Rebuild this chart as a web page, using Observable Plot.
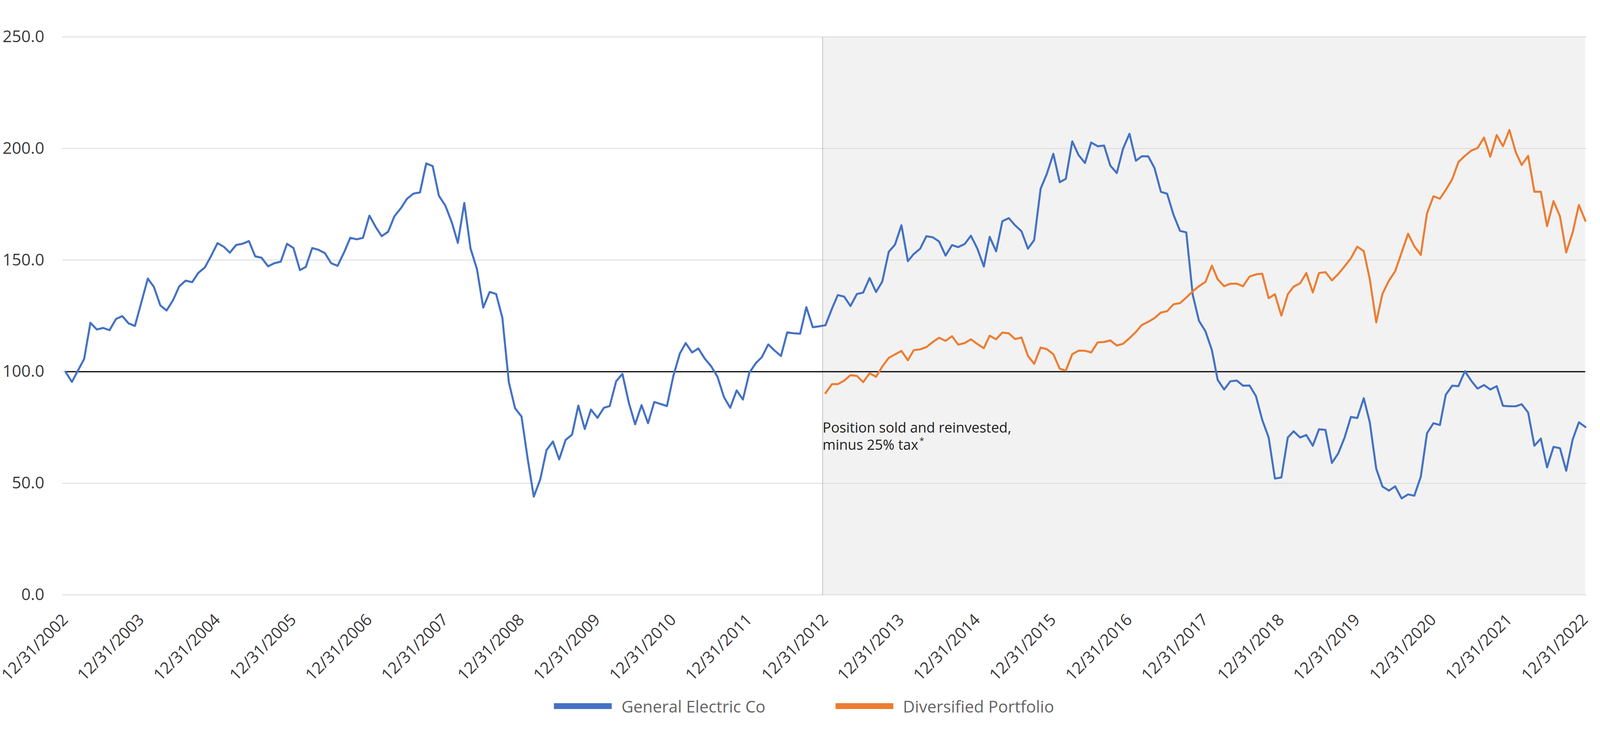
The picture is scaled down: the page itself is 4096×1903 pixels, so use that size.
<!DOCTYPE html>
<html>
<head>
<meta charset="utf-8">
<script src="https://cdn.jsdelivr.net/npm/d3@7"></script>
<script src="https://cdn.jsdelivr.net/npm/@observablehq/plot@0.6"></script>
<style>
  html, body { margin: 0; padding: 0; background: #ffffff; }
  #wrap { position: relative; width: 4096px; height: 1903px; overflow: hidden; font-family: "Open Sans", sans-serif; }
  #chart svg { display: block; }
  #legend { position: absolute; left: 1418px; top: 1783px; height: 50px; display: flex; align-items: center; font-size: 42px; color: #646464; font-family: "Open Sans", sans-serif; }
  .item { display: flex; align-items: center; white-space: nowrap; }
  .item + .item { margin-left: 179px; }
  .sw { width: 148px; height: 15px; margin-right: 25px; }
</style>
</head>
<body>
<div id="wrap">
  <div id="chart"></div>
  <div id="legend"></div>
</div>
<script>
// ---- Data (month-end index values, Dec 2002 = 100) ----
const geValues = [
  100.0, 95.4, 100.3, 105.7, 121.9, 118.9, 119.6, 118.6, 123.6, 124.9, 121.6, 120.5,
  131.1, 141.7, 138.0, 129.7, 127.4, 132.0, 138.2, 140.8, 140.1, 144.3, 146.7, 151.8,
  157.6, 155.9, 153.3, 156.8, 157.3, 158.5, 151.7, 151.0, 147.2, 148.6, 149.3, 157.3,
  155.4, 145.5, 146.9, 155.4, 154.6, 153.1, 148.6, 147.4, 153.4, 160.0, 159.3, 160.0,
  169.9, 164.7, 160.7, 162.7, 169.6, 173.2, 177.5, 179.8, 180.3, 193.3, 192.1, 178.8,
  174.4, 166.9, 157.7, 175.6, 155.2, 145.9, 128.7, 135.7, 134.8, 124.1, 95.3, 83.6,
  79.9, 60.1, 44.0, 51.7, 64.8, 68.7, 60.7, 69.4, 71.8, 84.8, 74.3, 83.0,
  79.3, 83.8, 84.6, 95.7, 99.0, 86.0, 76.4, 85.0, 76.9, 86.4, 85.5, 84.6,
  98.2, 108.1, 112.8, 108.6, 110.4, 105.8, 102.5, 97.7, 88.6, 83.8, 91.6, 87.5,
  99.5, 103.8, 106.5, 112.2, 109.5, 107.0, 117.6, 117.2, 117.0, 128.9, 119.9, 120.3,
  120.8, 128.2, 134.3, 133.6, 129.4, 134.8, 135.4, 142.0, 135.7, 140.4, 153.7, 156.9,
  165.6, 149.5, 152.7, 155.1, 160.7, 160.2, 158.3, 152.0, 156.7, 155.8, 157.2, 160.9,
  155.1, 147.1, 160.4, 153.9, 167.4, 168.8, 165.6, 162.9, 155.1, 159.0, 182.0, 188.7,
  197.6, 184.9, 186.4, 203.2, 197.1, 193.5, 202.7, 201.0, 201.3, 192.3, 189.0, 199.9,
  206.6, 194.5, 196.5, 196.5, 191.3, 180.6, 179.7, 170.2, 163.1, 162.4, 134.4, 122.8,
  118.1, 109.7, 96.3, 92.0, 95.7, 96.0, 93.7, 93.8, 89.0, 78.4, 70.5, 52.1,
  52.6, 70.5, 73.3, 70.5, 71.6, 66.8, 74.2, 73.9, 59.1, 63.3, 70.5, 79.7,
  79.2, 88.1, 77.3, 56.5, 48.5, 46.7, 48.6, 43.2, 45.0, 44.4, 52.9, 72.4,
  76.9, 76.1, 89.6, 93.7, 93.5, 100.2, 96.0, 92.4, 94.0, 92.0, 93.5, 84.7,
  84.5, 84.5, 85.4, 81.7, 66.8, 70.0, 57.1, 66.3, 65.7, 55.6, 69.6, 77.3,
  75.2
];
const portfolioValues = [
  90.4, 94.4, 94.4, 96.0, 98.4, 98.1, 95.3, 99.3, 97.7, 102.3, 106.2, 107.7,
  109.3, 105.1, 109.6, 110.0, 111.0, 113.3, 115.2, 113.8, 115.9, 112.1, 112.8, 114.5,
  112.4, 110.5, 116.1, 114.5, 117.5, 117.2, 114.6, 115.3, 107.1, 103.5, 110.8, 110.1,
  107.8, 101.3, 100.5, 107.8, 109.4, 109.4, 108.6, 113.1, 113.3, 114.0, 111.7, 112.5,
  115.0, 117.8, 120.9, 122.3, 124.0, 126.5, 127.1, 130.2, 130.7, 133.2, 136.0, 138.3,
  140.2, 147.5, 141.4, 138.3, 139.4, 139.4, 138.3, 142.6, 143.6, 143.9, 132.9, 134.7,
  125.1, 134.7, 138.1, 139.6, 144.2, 135.5, 144.2, 144.6, 140.9, 143.7, 147.2, 150.8,
  156.0, 154.0, 141.4, 122.1, 134.9, 140.8, 145.0, 153.4, 161.8, 156.2, 152.3, 171.0,
  178.6, 177.5, 181.4, 186.2, 193.9, 196.7, 199.0, 200.2, 204.9, 196.3, 206.0, 201.0,
  208.3, 198.2, 192.6, 196.7, 180.6, 180.6, 165.2, 176.4, 169.6, 153.4, 162.4, 174.7,
  167.6
];
const tickLabels = [
  "12/31/2002", "12/31/2003", "12/31/2004", "12/31/2005", "12/31/2006", "12/31/2007",
  "12/31/2008", "12/31/2009", "12/31/2010", "12/31/2011", "12/31/2012", "12/31/2013",
  "12/31/2014", "12/31/2015", "12/31/2016", "12/31/2017", "12/31/2018", "12/31/2019",
  "12/31/2020", "12/31/2021", "12/31/2022"
];
const yTicks = [0, 50, 100, 150, 200, 250];
const seriesNames = ["General Electric Co", "Diversified Portfolio"];
const seriesColors = ["#4472C4", "#ED7D31"];
const portfolioStartIndex = 120;           // Dec 2012
const saleDateLabel = "12/17/2012";
const referenceLevel = 100;
const annotationLines = ["Position sold and reinvested,", "minus 25% tax"];
const annotationMark = "*";
const annotationLevel = 78.1;

// ---- Build tables ----
const parse = d3.utcParse("%m/%d/%Y");
const fmt = d3.utcFormat("%m/%d/%Y");
const firstDate = parse(tickLabels[0]);
const lastDate = parse(tickLabels[tickLabels.length - 1]);
const monthEnd = (k) => d3.utcDay.offset(d3.utcMonth.offset(d3.utcDay.offset(firstDate, 1), k), -1);
const geData = geValues.map((v, i) => ({date: monthEnd(i), value: v, series: seriesNames[0]}));
const pfData = portfolioValues.map((v, i) => ({date: monthEnd(i + portfolioStartIndex), value: v, series: seriesNames[1]}));
const saleDate = parse(saleDateLabel);
const tickDates = tickLabels.map(parse);

// measure width of the second annotation line to place the superscript mark
const annFont = 36, annLine = 1.22;
const ctx = document.createElement("canvas").getContext("2d");
ctx.font = `${annFont}px 'Open Sans'`;
const line2Width = ctx.measureText(annotationLines[1]).width;

const W = 4096, H = 1760;

const chart = Plot.plot({
  width: W,
  height: H,
  marginLeft: 159,
  marginRight: 34,
  marginTop: 94,
  marginBottom: 237,
  style: {fontFamily: "'Open Sans', sans-serif", background: "#ffffff", overflow: "visible"},
  x: {type: "utc", domain: [firstDate, lastDate], insetLeft: 8, insetRight: 4},
  y: {domain: [0, 250]},
  marks: [
    Plot.rect([0], {x1: () => saleDate, x2: () => lastDate, y1: 0, y2: 250, fill: "#f2f2f2"}),
    Plot.gridY(yTicks, {stroke: "#d9d9d9", strokeOpacity: 1, strokeWidth: 2}),
    Plot.ruleX([saleDate], {y1: 0, y2: 250, stroke: "#8f8f8f", strokeWidth: 2, strokeDasharray: "1.5 1.5"}),
    Plot.ruleY([referenceLevel], {x1: firstDate, x2: lastDate, stroke: "#000000", strokeWidth: 3}),
    Plot.line(geData, {x: "date", y: "value", stroke: seriesColors[0], strokeWidth: 5.2, strokeLinejoin: "round", strokeLinecap: "round"}),
    Plot.line(pfData, {x: "date", y: "value", stroke: seriesColors[1], strokeWidth: 5.2, strokeLinejoin: "round", strokeLinecap: "round"}),
    Plot.text([annotationLines.join("\n")], {
      x: () => saleDate, y: () => annotationLevel, text: d => d,
      textAnchor: "start", lineAnchor: "top", lineHeight: annLine,
      fontSize: annFont, fill: "#1f1f1f"
    }),
    Plot.text([annotationMark], {
      x: () => saleDate, y: () => annotationLevel, text: d => d,
      textAnchor: "start", lineAnchor: "top",
      dx: line2Width + 3, dy: annFont * annLine - 1,
      fontSize: 22, fill: "#1f1f1f"
    }),
    Plot.axisY({ticks: yTicks, tickFormat: d => d.toFixed(1), tickSize: 0, tickPadding: 46, fontSize: 42, fill: "#3a3a3a", label: null}),
    Plot.axisX({ticks: tickDates, tickFormat: fmt, tickRotate: -45, tickSize: 0, tickPadding: 57, lineAnchor: "middle", fontSize: 41.5, fill: "#3a3a3a", label: null})
  ]
});
document.getElementById("chart").appendChild(chart);

// ---- Legend ----
const legend = document.getElementById("legend");
seriesNames.forEach((name, i) => {
  const item = document.createElement("div");
  item.className = "item";
  const sw = document.createElement("div");
  sw.className = "sw";
  sw.style.background = seriesColors[i];
  const label = document.createElement("span");
  label.textContent = name;
  item.appendChild(sw);
  item.appendChild(label);
  legend.appendChild(item);
});
</script>
</body>
</html>
